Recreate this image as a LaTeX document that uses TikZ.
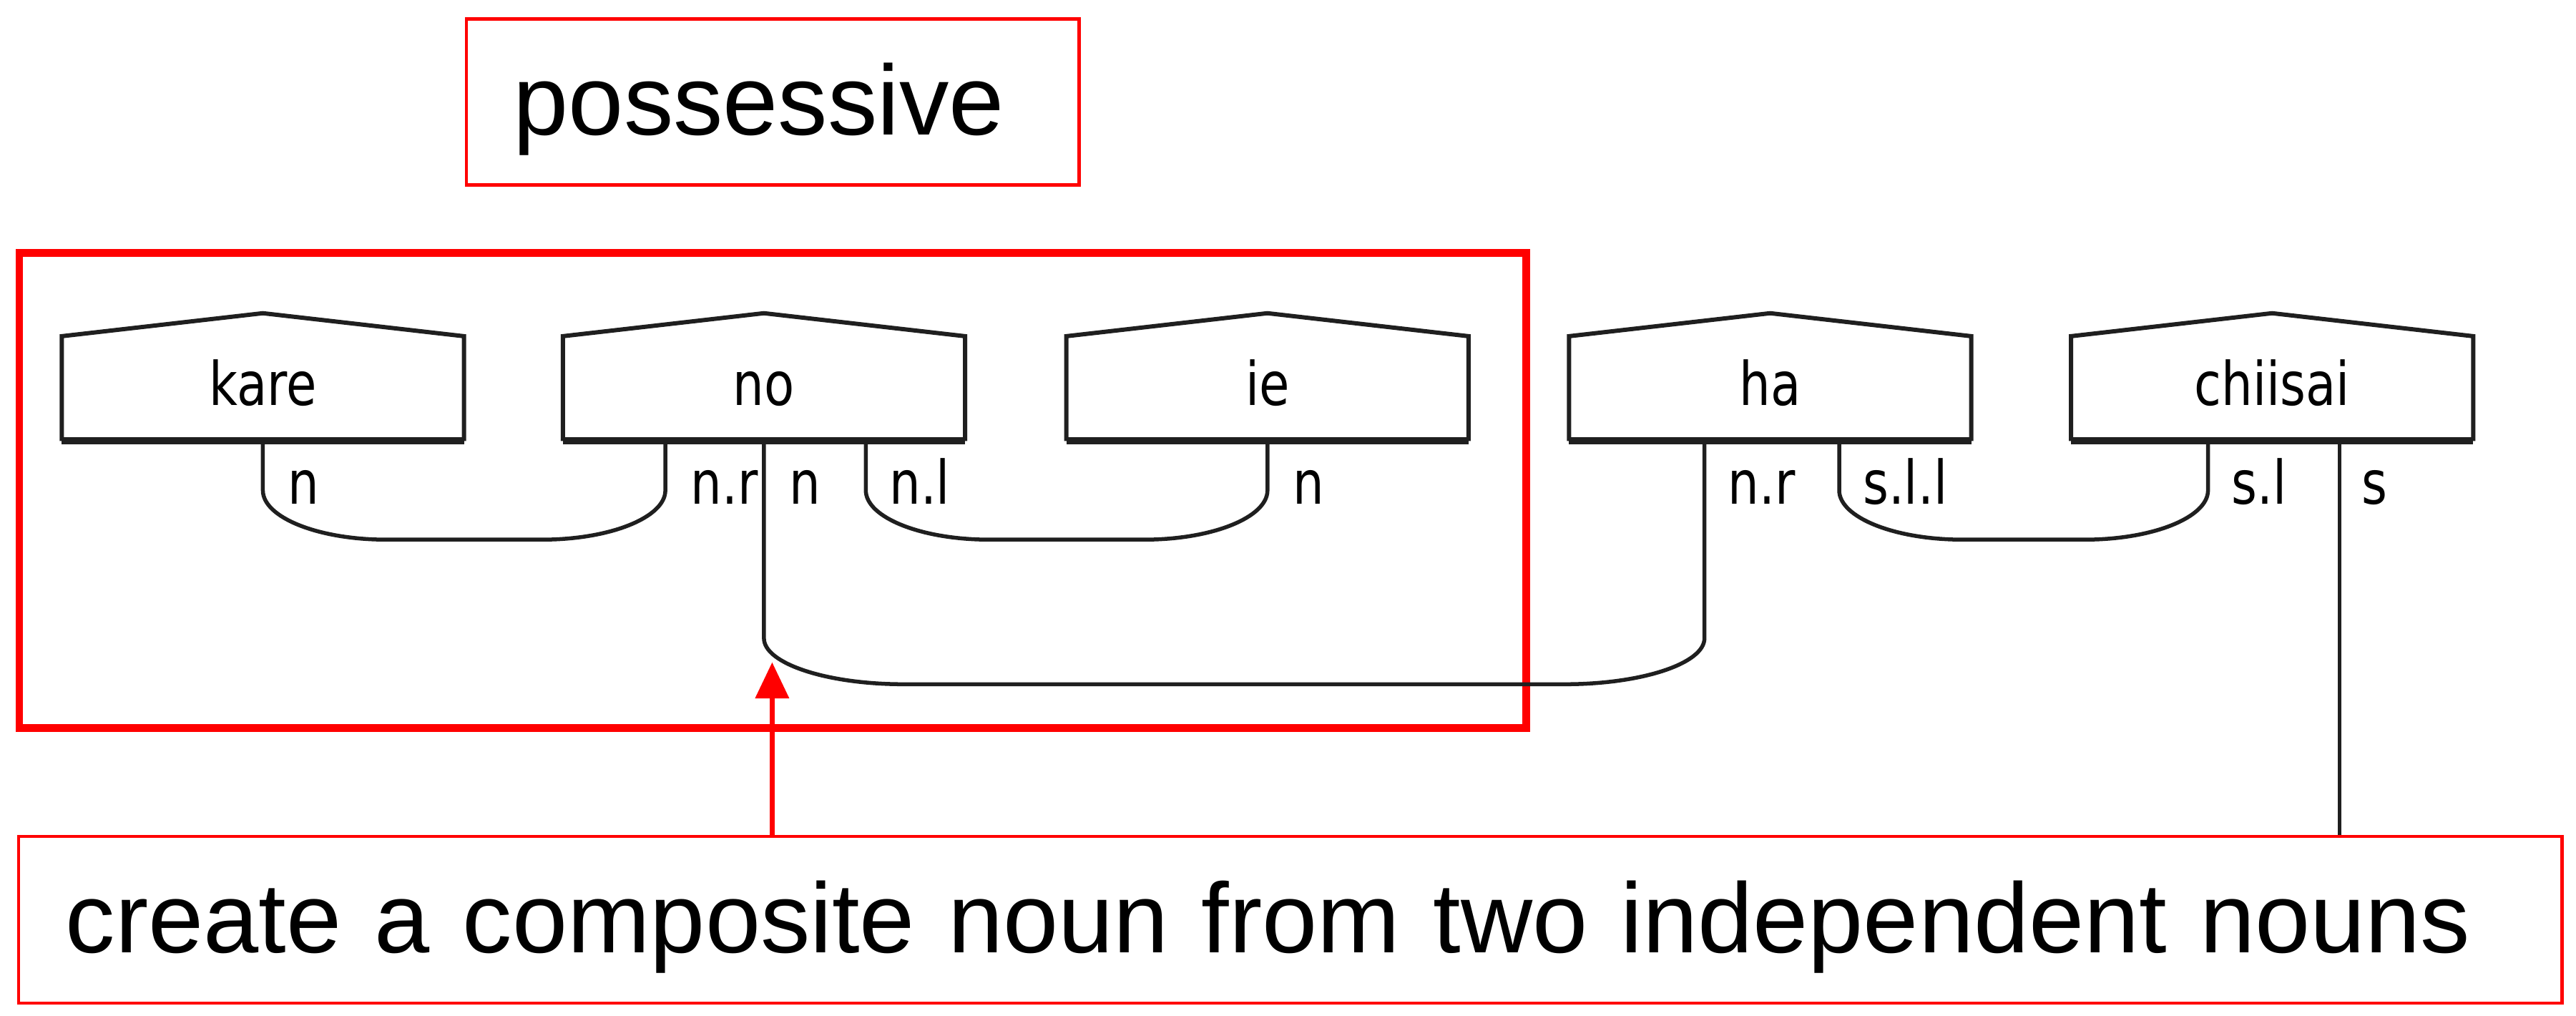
\documentclass[tikz,border=0pt]{standalone}
\usepackage{fontspec}
\setmainfont{Liberation Sans}
\newfontfamily\dgfont[FakeStretch=0.82]{DejaVu Sans}
\usetikzlibrary{calc,arrows.meta}
\definecolor{hlred}{RGB}{255,0,0}
\tikzset{
  word/.style={minimum width=122pt, minimum height=31.5pt, inner sep=0pt,
    font=\dgfont\fontsize{18.3pt}{20pt}\selectfont, text height=10.5pt, text depth=0.5pt},
  wordline/.style={line width=1.3pt, black!88},
  wire/.style={line width=1.2pt, black!88},
  portlabel/.style={anchor=base west, inner sep=0pt, font=\dgfont\fontsize{18.3pt}{20pt}\selectfont},
  notebox/.style={draw=hlred, line width=1pt, inner ysep=0pt, inner xsep=14.3pt, align=left,
    font=\fontsize{30.2pt}{36pt}\selectfont, text height=22pt, text depth=2.1pt},
  groupbox/.style={draw=hlred, line width=2.3pt, inner sep=0pt},
  redarrow/.style={draw=hlred, line width=1.6pt, -{Triangle[length=11pt,width=10pt]}}
}
\newcommand\wirecup[5]{%
  \draw[wire] (#1) -- ($(#1)+(0,#3)$)
    .. controls +(0,{0.55*(#4-#3)}) and +({-0.55*#5},0) .. ($(#1)+(#5,#4)$)
    -- ($(#2)+(-#5,#4)$)
    .. controls +({0.55*#5},0) and +(0,{0.55*(#4-#3)}) .. ($(#2)+(0,#3)$)
    -- (#2);}
\begin{document}
\begin{tikzpicture}[x=0.5pt,y=-0.5pt]
\useasboundingbox (0,0) rectangle (1568,618);
% red annotation boxes
\node[groupbox, minimum width=458.6pt, minimum height=144.5pt] (grp) at (470.35,298.5) {};
\node[notebox, text width=157.8pt, minimum height=50.5pt] (poss) at (470.35,62.1) {possessive};
\node[notebox, text width=745.5pt, minimum height=50.75pt] (bot) at (785.5,559.75) {create a composite noun from two independent nouns};
% word boxes
\node[word] (kare) at (160,236.5) {kare};
\node[word] (no) at (465,236.5) {no};
\node[word] (ie) at (771.5,236.5) {ie};
\node[word] (ha) at (1077.5,236.5) {ha};
\node[word] (chiisai) at (1383,236.5) {chiisai};
\foreach \w in {kare,no,ie,ha,chiisai}{
  \draw[wordline] (\w.south west) -- (\w.north west) -- ($(\w.north)+(0,-14)$) -- (\w.north east) -- (\w.south east);
  \draw[wordline, line width=2.2pt] (\w.south west) -- (\w.south east);
}
% ports
\coordinate (kareN) at (kare.south);
\coordinate (noNr) at ($(no.south)+(-60,0)$);
\coordinate (noN) at (no.south);
\coordinate (noNl) at ($(no.south)+(62,0)$);
\coordinate (ieN) at (ie.south);
\coordinate (haNr) at ($(ha.south)+(-40,0)$);
\coordinate (haSll) at ($(ha.south)+(42,0)$);
\coordinate (chSl) at ($(chiisai.south)+(-39,0)$);
\coordinate (chS) at ($(chiisai.south)+(41,0)$);
% wires
\wirecup{kareN}{noNr}{30}{60}{75}
\wirecup{noNl}{ieN}{30}{60}{75}
\wirecup{haSll}{chSl}{30}{60}{75}
\wirecup{noN}{haNr}{120}{148}{85}
\draw[wire] (chS) -- (chS |- bot.north);
% port labels
\node[portlabel] (lkare) at ($(kareN)+(15,38.5)$) {n};
\node[portlabel] (lnonr) at ($(noNr)+(15,38.5)$) {n.r};
\node[portlabel] (lnon) at ($(noN)+(15,38.5)$) {n};
\node[portlabel] (lnonl) at ($(noNl)+(14,38.5)$) {n.l};
\node[portlabel] (lie) at ($(ieN)+(15,38.5)$) {n};
\node[portlabel] (lhanr) at ($(haNr)+(14,38.5)$) {n.r};
\node[portlabel] (lhasll) at ($(haSll)+(14,38.5)$) {s.l.l};
\node[portlabel] (lchsl) at ($(chSl)+(14,38.5)$) {s.l};
\node[portlabel] (lchs) at ($(chS)+(13,38.5)$) {s};
% red arrow
\coordinate (tip) at (470,403);
\draw[redarrow] (tip |- bot.north) -- (tip);
\end{tikzpicture}
\end{document}
